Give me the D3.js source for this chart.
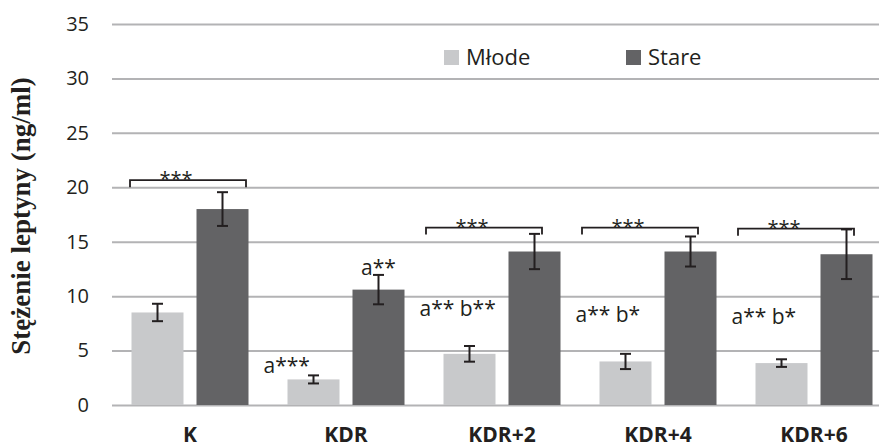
<!DOCTYPE html>
<html>
<head>
<meta charset="utf-8">
<script src="https://cdn.jsdelivr.net/npm/d3@7"></script>
<style>
  html, body { margin: 0; padding: 0; background: #fff; }
  svg { display: block; }
</style>
</head>
<body>
<svg id="chart" width="879" height="448"></svg>
<script>
// Leptin concentration by group, young (Młode) vs old (Stare)
const categories = ["K", "KDR", "KDR+2", "KDR+4", "KDR+6"];
const seriesNames = ["Młode", "Stare"];
const mlode = [8.5, 2.35, 4.7, 4.0, 3.85];
const mlodeErr = [0.8, 0.37, 0.72, 0.7, 0.35];
const stare = [18.0, 10.6, 14.1, 14.1, 13.85];
const stareErr = [1.55, 1.35, 1.62, 1.38, 2.28];
const yTicks = [0, 5, 10, 15, 20, 25, 30, 35];

// significance brackets (young vs old) and letter marks
const brackets = [
  { cat: "K", level: 20.65, label: "***" },
  { cat: "KDR+2", level: 16.3, label: "***" },
  { cat: "KDR+4", level: 16.3, label: "***" },
  { cat: "KDR+6", level: 16.2, label: "***" }
];
const letters = [
  { cat: "KDR", series: "Młode", label: "a***", level: 2.97 },
  { cat: "KDR", series: "Stare", label: "a**", level: 11.95 },
  { cat: "KDR+2", series: "Młode", label: "a** b**", level: 8.18 },
  { cat: "KDR+4", series: "Młode", label: "a** b*", level: 7.62 },
  { cat: "KDR+6", series: "Młode", label: "a** b*", level: 7.44 }
];

const colors = { "Młode": "#c8c9cb", "Stare": "#636365" };
const sans = "'Open Sans', Lato, sans-serif";
const ink = "#231f20";

const svg = d3.select("#chart");
const x0 = d3.scaleBand().domain(categories).range([112, 892]).padding(0);
const x1 = d3.scaleBand().domain(seriesNames).range([0, x0.bandwidth()])
  .paddingInner(0.2).paddingOuter(0.3);
const y = d3.scaleLinear().domain([0, 35]).range([405, 24]);

// gridlines and tick labels
const yAxis = d3.axisLeft(y).tickValues(yTicks).tickSize(-(892 - 112)).tickPadding(23);
const gy = svg.append("g").attr("transform", "translate(112,0)").call(yAxis);
gy.select(".domain").remove();
gy.selectAll(".tick line").attr("stroke", "#b3b3b5").attr("stroke-width", 2);
gy.selectAll(".tick text").style("font-size", "20px").style("font-family", sans).attr("fill", ink);

// category labels
const xAxis = d3.axisBottom(x0).tickSize(0).tickPadding(15);
const gx = svg.append("g").attr("transform", "translate(0,412)").call(xAxis);
gx.select(".domain").remove();
gx.selectAll(".tick text").style("font-size", "21px").style("font-weight", "bold")
  .style("font-family", sans).attr("fill", ink);

// bars
const rows = categories.map((c, i) => ({
  cat: c,
  items: [
    { series: "Młode", value: mlode[i], err: mlodeErr[i] },
    { series: "Stare", value: stare[i], err: stareErr[i] }
  ]
}));

const groups = svg.append("g").selectAll("g").data(rows).join("g")
  .attr("transform", d => `translate(${x0(d.cat)},0)`);

groups.selectAll("rect").data(d => d.items).join("rect")
  .attr("x", d => x1(d.series))
  .attr("width", x1.bandwidth())
  .attr("y", d => y(d.value))
  .attr("height", d => y(0) - y(d.value))
  .attr("fill", d => colors[d.series]);

// error bars
const capW = 11;
const cx = d => x1(d.series) + x1.bandwidth() / 2;
const eb = groups.selectAll("g.err").data(d => d.items).join("g").attr("class", "err")
  .attr("stroke", ink).attr("stroke-width", 2);
eb.append("line")
  .attr("x1", cx).attr("x2", cx)
  .attr("y1", d => y(d.value + d.err)).attr("y2", d => y(d.value - d.err));
eb.append("line")
  .attr("x1", d => cx(d) - capW / 2).attr("x2", d => cx(d) + capW / 2)
  .attr("y1", d => y(d.value + d.err)).attr("y2", d => y(d.value + d.err));
eb.append("line")
  .attr("x1", d => cx(d) - capW / 2).attr("x2", d => cx(d) + capW / 2)
  .attr("y1", d => y(d.value - d.err)).attr("y2", d => y(d.value - d.err));

// significance brackets spanning both bars of a group
const bracketStart = d => x0(d.cat) + (d.cat === "K" ? 18 : 2);
const br = svg.append("g").selectAll("g").data(brackets).join("g");
br.append("path")
  .attr("fill", "none").attr("stroke", ink).attr("stroke-width", 1.8)
  .attr("d", d => {
    const xa = bracketStart(d), xb = xa + 116;
    const yt = y(d.level), yb = yt + 7;
    return `M${xa},${yb}V${yt}H${xb}V${yb}`;
  });
br.append("text")
  .attr("x", d => bracketStart(d) + 46)
  .attr("y", d => y(d.level) + 6)
  .attr("text-anchor", "middle")
  .attr("fill", ink)
  .style("font-family", sans).style("font-size", "20px")
  .text(d => d.label);

// letter marks: young-group marks sit left of their bar, old-group marks above it
svg.append("g").selectAll("text").data(letters).join("text")
  .attr("x", d => d.series === "Młode"
    ? x0(d.cat) + x1(d.series) - 24
    : x0(d.cat) + x1(d.series) + x1.bandwidth() / 2)
  .attr("y", d => y(d.level))
  .attr("text-anchor", d => d.series === "Młode" ? "start" : "middle")
  .attr("fill", ink)
  .style("font-family", sans).style("font-size", "21px")
  .text(d => d.label);

// legend
const legend = svg.append("g").selectAll("g").data(seriesNames).join("g")
  .attr("transform", (d, i) => `translate(${444 + i * 182},50)`);
legend.append("rect").attr("width", 15).attr("height", 15).attr("fill", d => colors[d]);
legend.append("text").attr("x", 22).attr("y", 15).attr("fill", ink)
  .style("font-family", sans).style("font-size", "22px").text(d => d);

// y-axis title
svg.append("text")
  .attr("transform", "translate(30,216) rotate(-90)")
  .attr("text-anchor", "middle")
  .attr("fill", ink)
  .style("font-family", "'Liberation Serif', 'DejaVu Serif', serif")
  .style("font-weight", "bold")
  .style("font-size", "27px")
  .text("Stężenie leptyny (ng/ml)");
</script>
</body>
</html>
